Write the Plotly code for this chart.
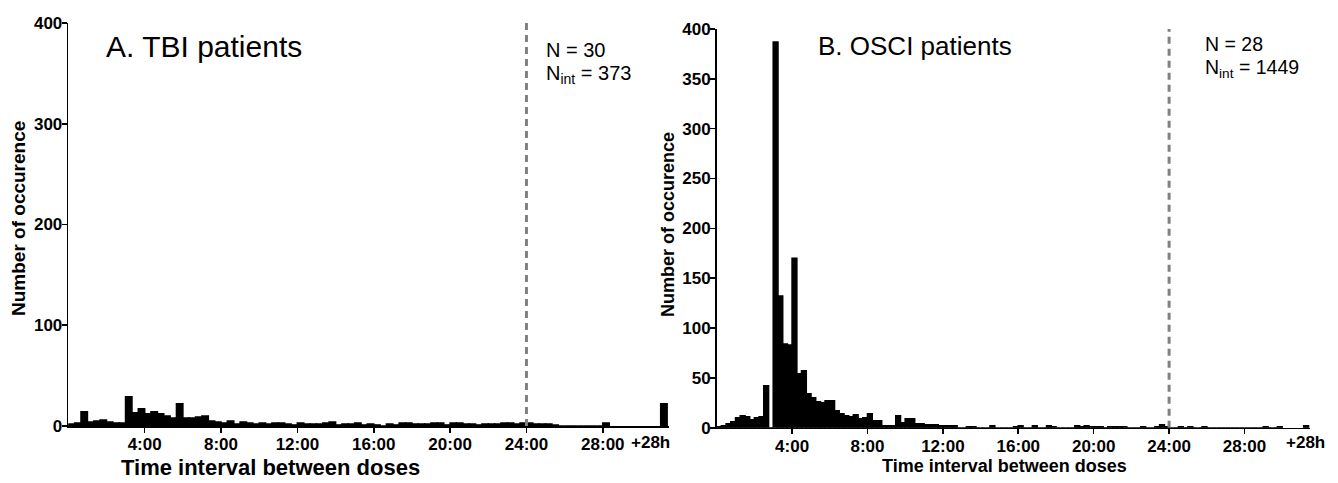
import plotly.graph_objects as go

W, H = 1338, 483

# ---------------- data ----------------
# Panel A: TBI patients, 20-minute bins starting at 0:00
tbi_bin_hours = 1 / 3
tbi_counts = [2, 3, 14, 4, 5, 6, 4, 3, 3, 29, 13, 17,
              12, 14, 12, 10, 8, 22, 8, 8, 9, 10, 5, 4,
              3, 5, 2, 4, 3, 2, 3, 2, 3, 3, 2, 1,
              3, 2, 2, 2, 3, 4, 1, 2, 2, 3, 1, 2,
              1, 0, 2, 1, 3, 3, 2, 2, 2, 3, 3, 1,
              3, 3, 2, 2, 1, 2, 2, 2, 3, 3, 2, 3,
              3, 2, 2, 2, 1, 0, 0, 0, 0, 0, 0, 0, 3]
tbi_over28 = 22
tbi_N = 30
tbi_Nint = 373

# Panel B: OSCI patients, 15-minute bins starting at 0:00
osci_bin_hours = 0.25
osci_counts = [1, 2, 4, 6, 10, 12, 11, 8, 10, 11,
               42, 0, 387, 132, 84, 83, 170, 54, 57, 34,
               30, 26, 25, 27, 27, 17, 14, 12, 11, 13,
               9, 10, 14, 7, 7, 2, 2, 2, 12, 5,
               9, 9, 4, 4, 3, 3, 3, 2, 2, 2,
               2, 0, 0, 1, 1, 0, 0, 0, 2, 0,
               0, 0, 0, 1, 2, 0, 0, 2, 0, 0,
               2, 1, 0, 0, 0, 0, 2, 1, 2, 1,
               1, 1, 0, 1, 1, 1, 1, 0, 0, 0,
               1, 0, 0, 1, 3, 1, 0, 0, 1, 0,
               1, 0, 0, 1, 0, 0, 0, 0, 0, 0,
               0, 0, 0, 0, 0, 0, 1, 0, 0, 1]
osci_over28 = 2
osci_N = 28
osci_Nint = 1449

tick_hours = [4, 8, 12, 16, 20, 24, 28]
tick_labels = ["4:00", "8:00", "12:00", "16:00", "20:00", "24:00", "28:00"]
over_label = "+28h"
threshold_hours = 24
yticks_A = [0, 100, 200, 300, 400]
yticks_B = [0, 50, 100, 150, 200, 250, 300, 350, 400]

# ---------------- layout helpers ----------------
def px(x):
    return x / W

def py(y):
    return 1 - y / H

FONT = "Liberation Sans, Arial, Helvetica, sans-serif"

fig = go.Figure()

def add_bars(counts, binw, over, over_x, xa, ya):
    xs = [(k + 0.5) * binw for k in range(len(counts))] + [over_x]
    ys = list(counts) + [over]
    fig.add_trace(go.Bar(
        x=xs, y=ys, width=binw, xaxis=xa, yaxis=ya,
        marker=dict(color="black", line=dict(color="black", width=1.6)),
        showlegend=False, hoverinfo="skip"))

add_bars(tbi_counts, tbi_bin_hours, tbi_over28, 31.2, "x", "y")
add_bars(osci_counts, osci_bin_hours, osci_over28, 31.27, "x2", "y2")

xA0, xA1 = 68.3, 668.5
xB0, xB1 = 716.7, 1310.0
yA0, yA1 = 426.0, 23.0
yB0, yB1 = 427.7, 29.0
hA = (xA1 - xA0) / 19.09
hB = (xB1 - xB0) / 18.85

tickfont = dict(family=FONT, size=17, color="black", weight="bold")
axis_common = dict(showline=True, linecolor="black", linewidth=1.6,
                   ticks="outside", ticklen=5, tickwidth=1.6, tickcolor="black",
                   showgrid=False, zeroline=False, tickfont=tickfont,
                   fixedrange=True, automargin=False)

fig.update_layout(
    width=W, height=H,
    margin=dict(l=0, r=0, t=0, b=0, autoexpand=False),
    paper_bgcolor="white", plot_bgcolor="white",
    bargap=0, barmode="overlay",
    xaxis=dict(domain=[px(xA0), px(xA1)], range=[0, hA], anchor="y",
               tickvals=tick_hours, ticktext=tick_labels,
               ticklabelstandoff=-3, **axis_common),
    yaxis=dict(domain=[py(yA0), py(yA1)], range=[0, 400], anchor="x",
               tickvals=yticks_A, ticklabelstandoff=-4, **axis_common),
    xaxis2=dict(domain=[px(xB0), px(xB1)], range=[0, hB], anchor="y2",
                tickvals=tick_hours, ticktext=tick_labels,
                ticklabelstandoff=-3, **axis_common),
    yaxis2=dict(domain=[py(yB0), py(yB1)], range=[0, 400], anchor="x2",
                tickvals=yticks_B, ticklabelstandoff=-4, **axis_common),
)

dash = dict(color="#808080", width=3, dash="7px,5px")
fig.add_shape(type="line", xref="x", yref="y", x0=threshold_hours, x1=threshold_hours,
              y0=0, y1=400, line=dash, layer="above")
fig.add_shape(type="line", xref="x2", yref="y2", x0=threshold_hours, x1=threshold_hours,
              y0=0, y1=400, line=dash, layer="above")

def ann(text, x, y, size, bold=False, xanchor="left", yanchor="middle",
        textangle=0, xref="paper"):
    f = dict(family=FONT, size=size, color="black")
    if bold:
        f["weight"] = "bold"
    fig.add_annotation(text=text, x=x, y=y, xref=xref, yref="paper",
                       xanchor=xanchor, yanchor=yanchor, showarrow=False,
                       textangle=textangle, font=f)

# panel titles
ann("A. TBI patients", px(104), py(46), 30)
ann("B. OSCI patients", px(816), py(46), 26)

# N annotations
ann(f"N = {tbi_N}", px(544), py(50), 20)
ann(f"N<sub>int</sub> = {tbi_Nint}", px(544), py(75), 20)
ann(f"N = {osci_N}", px(1203), py(44), 19.5)
ann(f"N<sub>int</sub> = {osci_Nint}", px(1203), py(68), 19.5)

# +28h labels
ann(over_label, 30.5, py(442), 17, bold=True, xanchor="center", xref="x")
ann(over_label, 31.25, py(442), 17, bold=True, xanchor="center", xref="x2")

# axis titles
ann("Time interval between doses", px(270), py(467), 22, bold=True, xanchor="center")
ann("Time interval between doses", px(1004), py(466), 18, bold=True, xanchor="center")
ann("Number of occurence", px(18), py(219), 19, bold=True, xanchor="center", textangle=-90)
ann("Number of occurence", px(668), py(225), 18, bold=True, xanchor="center", textangle=-90)

fig.write_html("out.html", config={"displayModeBar": False, "staticPlot": True},
               post_script="document.body.style.margin='0';document.body.style.overflow='hidden';")
